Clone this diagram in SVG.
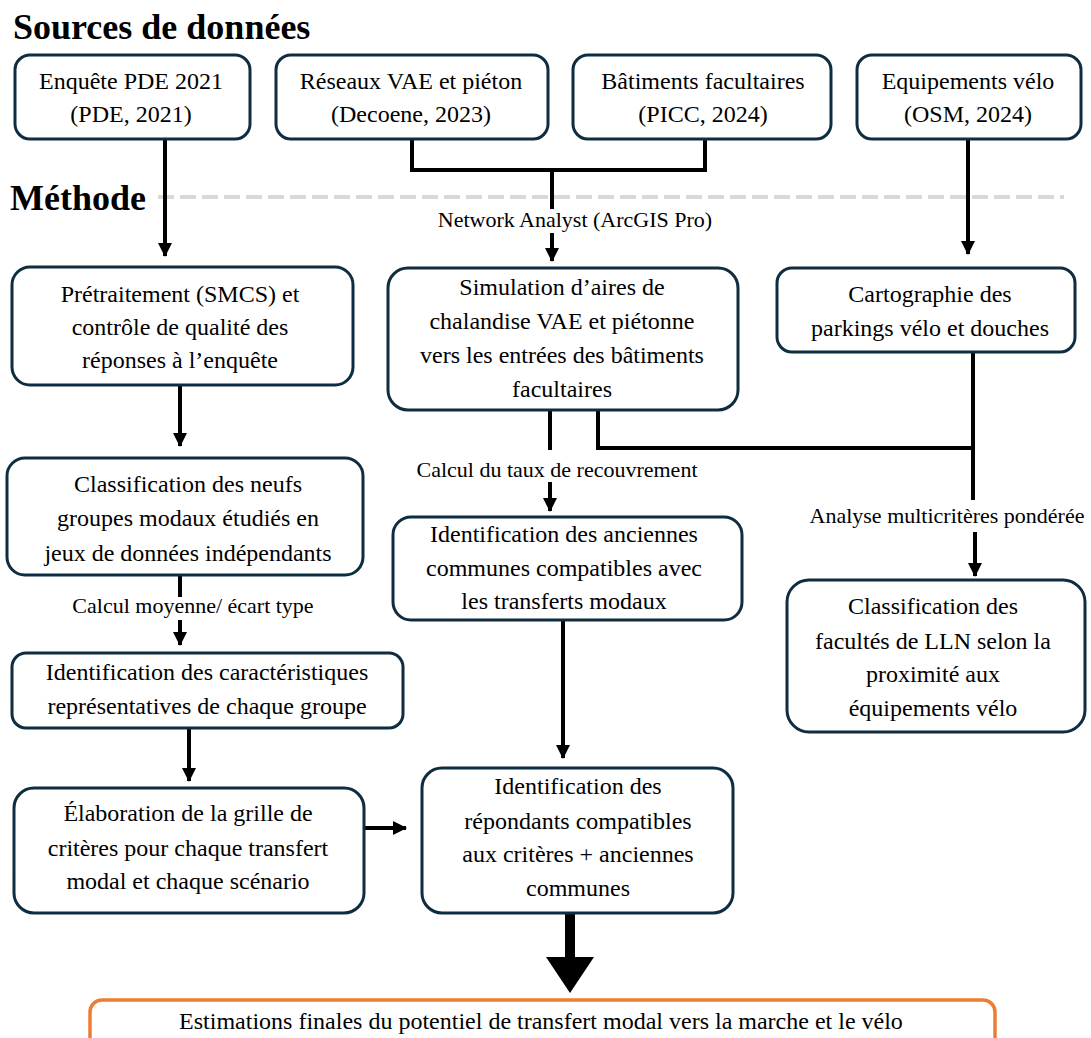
<svg xmlns="http://www.w3.org/2000/svg" width="1091" height="1038" viewBox="0 0 1091 1038">
  <defs>
    <style>
      .box { fill: #ffffff; stroke: #0f2d40; stroke-width: 3; }
      .final { fill: #ffffff; stroke: #ed7d31; stroke-width: 3.5; }
      .nt { font-family: "Liberation Serif", serif; font-size: 24px; fill: #000000; text-anchor: middle; }
      .lbl { font-family: "Liberation Serif", serif; font-size: 22px; fill: #000000; text-anchor: middle; }
      .head { font-family: "Liberation Serif", serif; font-size: 36px; font-weight: bold; fill: #000000; }
      .ln { fill: none; stroke: #000; stroke-width: 4; }
      .arr { fill: none; stroke: #000; stroke-width: 4; marker-end: url(#ah); }
      .sep { stroke: #d9d9d9; stroke-width: 4; stroke-dasharray: 16 6; }
    </style>
    <marker id="ah" markerUnits="userSpaceOnUse" markerWidth="14" markerHeight="14" refX="13" refY="7" orient="auto">
      <path d="M0,0 L14,7 L0,14 Z" fill="#000"/>
    </marker>
  </defs>

  <rect width="1091" height="1038" fill="#ffffff"/>

  <!-- section headings -->
  <text class="head" x="13" y="39">Sources de données</text>
  <line class="sep" x1="158" y1="197" x2="1064" y2="197"/>
  <text class="head" x="10" y="210">Méthode</text>

  <!-- connectors -->
  <g id="connectors">
    <line class="arr" x1="165" y1="139" x2="165" y2="256"/>
    <polyline class="ln" points="412,139 412,170 705,170 705,139"/>
    <line class="ln" x1="552" y1="170" x2="552" y2="209"/>
    <text class="lbl" x="575" y="227">Network Analyst (ArcGIS Pro)</text>
    <line class="arr" x1="552" y1="233" x2="552" y2="261"/>
    <line class="arr" x1="968" y1="139" x2="968" y2="254"/>

    <line class="arr" x1="180" y1="385" x2="180" y2="446"/>
    <line class="ln" x1="180" y1="575" x2="180" y2="597"/>
    <text class="lbl" x="193" y="613">Calcul moyenne/ écart type</text>
    <line class="arr" x1="180" y1="620" x2="180" y2="645"/>
    <line class="arr" x1="189" y1="728" x2="189" y2="781"/>
    <line class="arr" x1="364" y1="828" x2="406" y2="828"/>

    <line class="ln" x1="550" y1="410" x2="550" y2="450"/>
    <text class="lbl" x="557" y="477">Calcul du taux de recouvrement</text>
    <line class="arr" x1="550" y1="482" x2="550" y2="511"/>
    <polyline class="ln" points="598,410 598,448 973,448"/>
    <line class="ln" x1="973" y1="352" x2="973" y2="500"/>
    <text class="lbl" x="947" y="523">Analyse multicritères pondérée</text>
    <line class="arr" x1="975" y1="532" x2="975" y2="576"/>

    <line class="arr" x1="563" y1="620" x2="563" y2="758"/>

    <rect x="565" y="913" width="10" height="46" fill="#000"/>
    <path d="M546,957 L594,957 L570,993 Z" fill="#000"/>
  </g>

  <!-- data sources -->
  <g id="src-pde">
    <rect class="box" x="15" y="55" width="235" height="84" rx="15"/>
    <text class="nt" x="131" y="89">Enquête PDE 2021</text>
    <text class="nt" x="131" y="122">(PDE, 2021)</text>
  </g>
  <g id="src-reseaux">
    <rect class="box" x="276" y="55" width="272" height="84" rx="15"/>
    <text class="nt" x="411" y="89">Réseaux VAE et piéton</text>
    <text class="nt" x="411" y="122">(Decoene, 2023)</text>
  </g>
  <g id="src-batiments">
    <rect class="box" x="573" y="55" width="258" height="84" rx="15"/>
    <text class="nt" x="703" y="89">Bâtiments facultaires</text>
    <text class="nt" x="703" y="122">(PICC, 2024)</text>
  </g>
  <g id="src-equipements">
    <rect class="box" x="857" y="55" width="224" height="84" rx="15"/>
    <text class="nt" x="968" y="89">Equipements vélo</text>
    <text class="nt" x="968" y="122">(OSM, 2024)</text>
  </g>

  <!-- method steps -->
  <g id="pretraitement">
    <rect class="box" x="12" y="267" width="341" height="118" rx="18"/>
    <text class="nt" x="180" y="302">Prétraitement (SMCS) et</text>
    <text class="nt" x="180" y="335">contrôle de qualité des</text>
    <text class="nt" x="180" y="368">réponses à l’enquête</text>
  </g>
  <g id="simulation">
    <rect class="box" x="388" y="268" width="350" height="142" rx="20"/>
    <text class="nt" x="562" y="295">Simulation d’aires de</text>
    <text class="nt" x="562" y="329">chalandise VAE et piétonne</text>
    <text class="nt" x="562" y="363">vers les entrées des bâtiments</text>
    <text class="nt" x="562" y="397">facultaires</text>
  </g>
  <g id="cartographie">
    <rect class="box" x="777" y="268" width="298" height="84" rx="15"/>
    <text class="nt" x="930" y="302">Cartographie des</text>
    <text class="nt" x="930" y="336">parkings vélo et douches</text>
  </g>
  <g id="classification-groupes">
    <rect class="box" x="7" y="458" width="356" height="117" rx="18"/>
    <text class="nt" x="188" y="492">Classification des neufs</text>
    <text class="nt" x="188" y="526">groupes modaux étudiés en</text>
    <text class="nt" x="188" y="561">jeux de données indépendants</text>
  </g>
  <g id="anciennes-communes">
    <rect class="box" x="393" y="517" width="349" height="103" rx="18"/>
    <text class="nt" x="564" y="542">Identification des anciennes</text>
    <text class="nt" x="564" y="576">communes compatibles avec</text>
    <text class="nt" x="564" y="609">les transferts modaux</text>
  </g>
  <g id="classification-facultes">
    <rect class="box" x="787" y="580" width="298" height="152" rx="22"/>
    <text class="nt" x="933" y="614">Classification des</text>
    <text class="nt" x="933" y="649">facultés de LLN selon la</text>
    <text class="nt" x="933" y="682">proximité aux</text>
    <text class="nt" x="933" y="716">équipements vélo</text>
  </g>
  <g id="caracteristiques">
    <rect class="box" x="12" y="653" width="391" height="75" rx="14"/>
    <text class="nt" x="207" y="680">Identification des caractéristiques</text>
    <text class="nt" x="207" y="714">représentatives de chaque groupe</text>
  </g>
  <g id="grille-criteres">
    <rect class="box" x="14" y="788" width="350" height="125" rx="20"/>
    <text class="nt" x="188" y="821">Élaboration de la grille de</text>
    <text class="nt" x="188" y="856">critères pour chaque transfert</text>
    <text class="nt" x="188" y="889">modal et chaque scénario</text>
  </g>
  <g id="repondants">
    <rect class="box" x="422" y="768" width="311" height="145" rx="20"/>
    <text class="nt" x="578" y="794">Identification des</text>
    <text class="nt" x="578" y="829">répondants compatibles</text>
    <text class="nt" x="578" y="862">aux critères + anciennes</text>
    <text class="nt" x="578" y="896">communes</text>
  </g>
  <g id="estimations">
    <rect class="final" x="90" y="1000" width="905" height="70" rx="12"/>
    <text class="nt" x="541" y="1029">Estimations finales du potentiel de transfert modal vers la marche et le vélo</text>
  </g>
</svg>
